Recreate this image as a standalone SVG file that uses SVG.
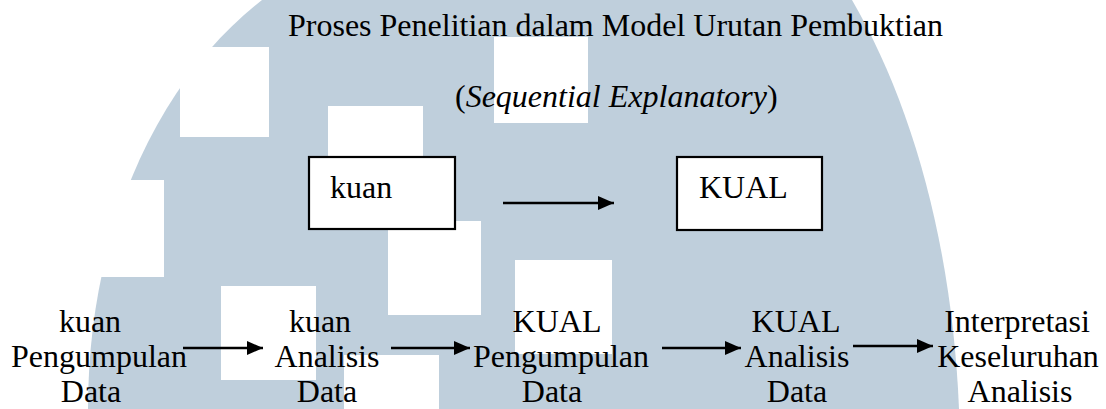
<svg xmlns="http://www.w3.org/2000/svg" width="1106" height="409" viewBox="0 0 1106 409">
  <style>
    .t { font-family: "Liberation Serif", "Times New Roman", serif; font-size: 32px; fill: #000; }
    .mid { text-anchor: middle; }
    .box { fill: #fff; stroke: #000; stroke-width: 2.2; }
    .conn { stroke: #000; stroke-width: 2.6; fill: none; }
    .wm { fill: #bfcfdc; }
    .wm-cut { fill: #fff; }
  </style>
  <defs>
    <marker id="arrow" viewBox="0 0 16 14" refX="16" refY="7" markerWidth="16" markerHeight="14" markerUnits="userSpaceOnUse" orient="auto">
      <path d="M0,0 L16,7 L0,14 Z" fill="#000"/>
    </marker>
  </defs>

  <rect width="1106" height="409" fill="#fff"/>

  <!-- background emblem -->
  <g id="emblem">
    <path class="wm" d="M262,0 C165,75 88,220 88,409 L959,409 C952,240 910,100 852,0 Z"/>
    <rect class="wm-cut" x="180" y="47" width="89" height="90"/>
    <rect class="wm-cut" x="40" y="180" width="124" height="97"/>
    <rect class="wm-cut" x="328" y="106" width="95" height="90"/>
    <rect class="wm-cut" x="494" y="37" width="94" height="86"/>
    <rect class="wm-cut" x="388" y="221" width="93" height="94"/>
    <rect class="wm-cut" x="221" y="286" width="95" height="94"/>
    <rect class="wm-cut" x="344" y="355" width="95" height="60"/>
    <rect class="wm-cut" x="515" y="260" width="97" height="94"/>
  </g>

  <!-- heading -->
  <g id="title">
    <text class="t" x="288" y="36">Proses Penelitian dalam Model Urutan Pembuktian</text>
    <text class="t" x="455" y="107">(<tspan font-style="italic">Sequential Explanatory</tspan>)</text>
  </g>

  <!-- sequence of phases -->
  <g id="node-kuan">
    <rect class="box" x="309" y="157" width="146" height="72"/>
    <text class="t" x="330" y="198">kuan</text>
  </g>
  <g id="node-kual">
    <rect class="box" x="677" y="157" width="145" height="73"/>
    <text class="t" x="699" y="198">KUAL</text>
  </g>

  <!-- procedure steps -->
  <g id="step-kuan-collect">
    <text class="t mid" x="90" y="332">kuan</text>
    <text class="t mid" x="99" y="367">Pengumpulan</text>
    <text class="t mid" x="91" y="402">Data</text>
  </g>
  <g id="step-kuan-analyse">
    <text class="t mid" x="320" y="332">kuan</text>
    <text class="t mid" x="327" y="367">Analisis</text>
    <text class="t mid" x="327" y="402">Data</text>
  </g>
  <g id="step-kual-collect">
    <text class="t mid" x="557" y="332">KUAL</text>
    <text class="t mid" x="561" y="367">Pengumpulan</text>
    <text class="t mid" x="552" y="402">Data</text>
  </g>
  <g id="step-kual-analyse">
    <text class="t mid" x="796" y="332">KUAL</text>
    <text class="t mid" x="797" y="367">Analisis</text>
    <text class="t mid" x="797" y="402">Data</text>
  </g>
  <g id="step-interpret">
    <text class="t mid" x="1017" y="332">Interpretasi</text>
    <text class="t mid" x="1018" y="367">Keseluruhan</text>
    <text class="t mid" x="1020" y="402">Analisis</text>
  </g>

  <!-- connectors -->
  <g id="connectors">
    <line class="conn" x1="503" y1="203" x2="614" y2="203" marker-end="url(#arrow)"/>
    <line class="conn" x1="183" y1="348" x2="263" y2="348" marker-end="url(#arrow)"/>
    <line class="conn" x1="391" y1="348" x2="470" y2="348" marker-end="url(#arrow)"/>
    <line class="conn" x1="662" y1="348" x2="741" y2="348" marker-end="url(#arrow)"/>
    <line class="conn" x1="853" y1="346" x2="933" y2="346" marker-end="url(#arrow)"/>
  </g>
</svg>
